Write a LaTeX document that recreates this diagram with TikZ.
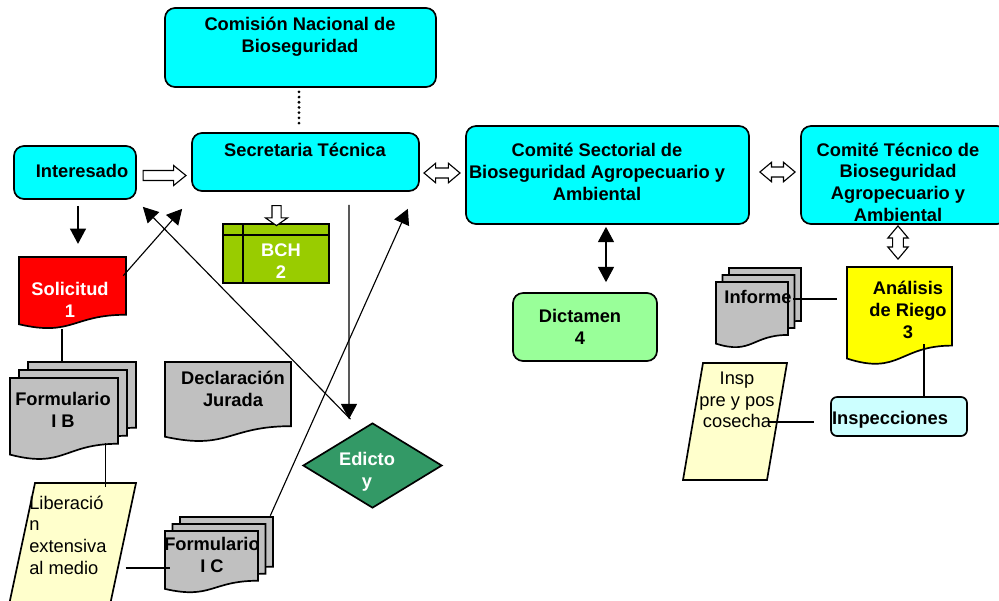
\documentclass[tikz,border=0pt]{standalone}
\usepackage{fontspec}
\setmainfont{Liberation Sans}
\usepackage{tikz}
\usetikzlibrary{positioning,calc,shapes.geometric,shapes.arrows,arrows.meta}

\definecolor{cian}{HTML}{00FFFF}
\definecolor{rojo}{HTML}{FF0000}
\definecolor{gris}{HTML}{C0C0C0}
\definecolor{amarillo}{HTML}{FFFF00}
\definecolor{crema}{HTML}{FFFFCC}
\definecolor{verdeolivo}{HTML}{99CC00}
\definecolor{verdeoscuro}{HTML}{339966}
\definecolor{verdeclaro}{HTML}{99FF99}
\definecolor{celeste}{HTML}{CCFFFF}

\tikzset{
  wh/.style 2 args={minimum width={(#1)*0.025cm}, minimum height={(#2)*0.025cm}},
  frame/.style={inner sep=0pt},
  box/.style={draw, line width=1.2pt, rounded corners=0.25cm, inner sep=0pt},
  txt/.style={align=center, inner sep=0pt, font=\fontsize{13}{15.4}\selectfont\bfseries},
  plain/.style={align=center, inner sep=0pt, font=\fontsize{13}{15.4}\selectfont},
  arr/.style={line width=0.8pt, -{Triangle[length=0.38cm, width=0.4cm]}},
  arrboth/.style={line width=0.8pt, {Triangle[length=0.38cm, width=0.4cm]}-{Triangle[length=0.38cm, width=0.4cm]}},
  link/.style={line width=0.8pt},
  puntos/.style={line width=2.2pt, line cap=round, dash pattern=on 0pt off 0.13cm},
  hollow/.style={single arrow, draw, fill=white, line width=0.8pt, inner xsep=0pt, inner ysep=0.11cm,
    single arrow head extend=0.125cm, single arrow tip angle=78},
  hollowdbl/.style={double arrow, draw, fill=white, line width=0.8pt, inner xsep=0pt, inner ysep=0.11cm,
    double arrow head extend=0.12cm, double arrow tip angle=80}
}

\newcommand\docfill[5]{%
  \filldraw[line width=1.2pt, fill=#1] (#2,#3) -- ({#2+#4},#3) -- ({#2+#4},{#3+0.802*#5})
    .. controls ({#2+0.5*#4},{#3+0.802*#5}) and ({#2+0.5*#4},{#3+1.1075*#5}) .. (#2,{#3+0.934*#5}) -- cycle;}
\newcommand\docnode[6]{%
  \docfill{#2}{#3}{#4}{#5}{#6}
  \node[frame, wh={#5}{#6}] (#1) at ({#3+0.5*#5},{#4+0.5*#6}) {};}
\newcommand\stacknode[7]{%
  \docfill{gris}{#2+2*#6}{#3-2*#7}{#4}{#5}
  \docfill{gris}{#2+#6}{#3-#7}{#4}{#5}
  \docnode{#1}{gris}{#2}{#3}{#4}{#5}}
\newcommand\slantnode[6]{%
  \filldraw[line width=1.2pt, fill=crema] (#2,#3) -- ++(#4,0) -- ++(-#6,#5) -- ++(-#4,0) -- cycle;
  \node[frame, wh={#4+#6}{#5}] (#1) at ({#2-0.5*#6+0.5*#4},{#3+0.5*#5}) {};}

\begin{document}
\begin{tikzpicture}[x=0.025cm, y=-0.025cm]
  \fill[white] (0,0) rectangle (999,600);
  \useasboundingbox (0,0) rectangle (999,600);

  \node[box, fill=cian, wh={271}{79}] (cnb) at (300.5,47.5) {};
  \node[box, fill=cian, wh={227}{58}] (sec) at (305.5,162) {};
  \node[box, fill=cian, wh={122}{53}] (inter) at (75,172.5) {};
  \node[box, fill=cian, wh={283}{98}] (csbaa) at (607.5,175) {};
  \node[box, fill=cian, wh={206}{98}] (ctbaa) at (904,175) {};
  \node[box, fill=verdeclaro, wh={144}{68}] (dict) at (585,327) {};
  \node[box, fill=celeste, wh={136}{39}, rounded corners=0.15cm] (insp) at (899,416.5) {};

  \node[draw, line width=1.2pt, fill=verdeolivo, wh={106}{59}, inner sep=0pt] (bch) at (276,253.5) {};
  \draw[line width=1.2pt] ($(bch.north west)+(0,12)$) -- ($(bch.north east)+(0,12)$)
    ($(bch.north west)+(21,0)$) -- ($(bch.south west)+(21,0)$);
  \node[diamond, draw, line width=1.2pt, fill=verdeoscuro, wh={139}{85}, inner sep=0pt] (edicto) at (372.5,465.5) {};

  \docnode{sol}{rojo}{19}{257}{107}{72}
  \docnode{decl}{gris}{165}{362}{126}{80}
  \docnode{anal}{amarillo}{847}{267}{105}{98}
  \stacknode{fib}{10}{378}{108}{82}{9}{8}
  \stacknode{fic}{165}{531}{93}{62}{7.5}{7}
  \stacknode{inf}{716}{282}{72}{66}{6.5}{7}
  \slantnode{libr}{35}{483}{101}{122}{26}
  \slantnode{cosecha}{703}{363}{84}{117}{20}

  \node[hollow, minimum height=1.07cm] (flecha1) at (161.5,175.5) {};
  \node[hollowdbl, minimum height=0.9cm] (flecha2) at (442,173) {};
  \node[hollowdbl, minimum height=0.88cm] (flecha3) at (777.5,172) {};
  \node[hollowdbl, shape border rotate=90, minimum height=0.83cm, inner xsep=0.12cm, inner ysep=0pt] (flecha4) at (898,242.5) {};
  \node[hollow, shape border rotate=270, minimum height=0.5cm, inner xsep=0.1cm, inner ysep=0pt,
    single arrow head extend=0.16cm, single arrow tip angle=110] (flecha5) at (276.5,214) {};

  \node[txt] (cnbT) at (300,37) {Comisión Nacional de\\Bioseguridad};
  \node[txt] (secT) at (305,150) {Secretaria Técnica};
  \node[txt] (interT) at (82,171) {Interesado};
  \node[txt] (csbaaT) at (597,172) {Comité Sectorial de\\Bioseguridad Agropecuario y\\Ambiental};
  \node[txt] (ctbaaT) at (898,182) {Comité Técnico de\\Bioseguridad\\Agropecuario y\\Ambiental};
  \node[txt] (dictT) at (580,327) {Dictamen\\4};
  \node[txt] (inspT) at (890,420) {Inspecciones};
  \node[txt, text=white] (bchT) at (281,261) {BCH\\2};
  \node[txt, text=white] (edictoT) at (367,472) {Edicto\\y};
  \node[txt, text=white] (solT) at (70,300) {Solicitud\\1};
  \node[txt] (declT) at (233,389) {Declaración\\Jurada};
  \node[txt] (analT) at (908,310) {Análisis\\de Riego\\3};
  \node[txt] (fibT) at (63,410) {Formulario\\I B};
  \node[txt] (ficT) at (212,555) {Formulario\\I C};
  \node[txt] (infT) at (758,297) {Informe};
  \node[plain] (cosechaT) at (737,400) {Insp\\pre y pos\\cosecha};
  \node[plain, align=left, anchor=west] (librT) at (29,535) {Liberació\\n\\extensiva\\al medio};

  \draw[puntos] ($(cnb.south)+(-1.5,4)$) -- ($(cnb.south)+(-1.5,38)$);
  \draw[arr] ($(inter.south)+(3,6)$) -- ($(inter.south)+(3,44)$);
  \draw[arr] ($(sol.north east)+(-3,19)$) -- ($(sec.south west)+(-9,17)$);
  \draw[arr] ($(edicto.north)+(-22,-3)$) -- ($(inter.south east)+(6,7)$);
  \draw[arr] ($(sec.south)+(43.5,13)$) -- ($(edicto.north)+(-23.5,-3)$);
  \draw[arr] ($(fic.north east)+(12,-15)$) -- ($(sec.south east)+(-12,17)$);
  \draw[arrboth] ($(csbaa.south)+(-1.5,2)$) -- ($(dict.north)+(21,-10)$);
  \draw[link] ($(sol.south)+(-10.5,0)$) -- ($(sol.south)+(-10.5,33)$);
  \draw[link] ($(fib.south east)+(-13,-17)$) -- ($(fib.south east)+(-13,27)$);
  \draw[link] ($(fic.west)+(-39,6)$) -- ($(fic.west)+(5,6)$);
  \draw[link] ($(inf.east)+(5,-16)$) -- ($(anal.west)+(-10,-17)$);
  \draw[link] ($(insp.north)+(25,-52)$) -- ($(insp.north)+(25,0)$);
  \draw[link] ($(insp.west)+(-61,5.5)$) -- ($(insp.west)+(-16,5.5)$);
\end{tikzpicture}
\end{document}
